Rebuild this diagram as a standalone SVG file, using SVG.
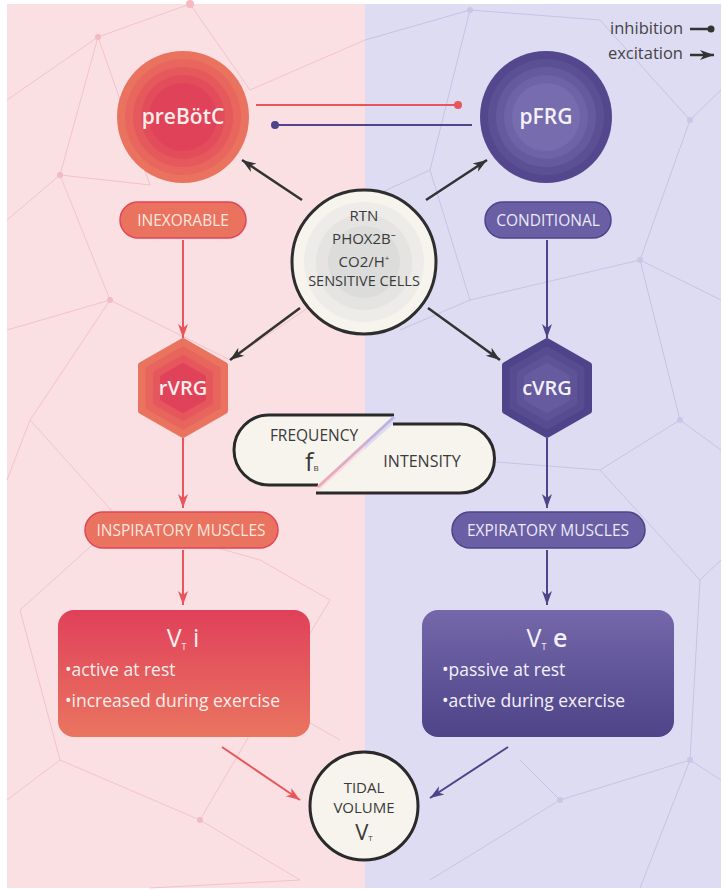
<svg xmlns="http://www.w3.org/2000/svg" width="723" height="890" viewBox="0 0 723 890">
<style>
text{font-family:"Open Sans","Noto Sans",sans-serif;}
.lbl{fill:#fde6df;font-size:15.5px;text-anchor:middle;}
.dark{fill:#3a3a3a;text-anchor:middle;}
.box{fill:#fbeeea;font-size:17.5px;}
.bgl{fill:none;stroke-width:1;}
.pk{stroke:#f2c3c9;}
.bl{stroke:#c6c3e6;}
.red{stroke:#e8565c;stroke-width:2;fill:none;}
.blue{stroke:#4f4389;stroke-width:2;fill:none;}
.blk{stroke:#333;stroke-width:2.5;fill:none;}
</style>
<defs>
<marker id="ar" markerUnits="userSpaceOnUse" markerWidth="16" markerHeight="12" refX="14" refY="6" orient="auto"><path d="M0,1 L14,6 L0,11 L4,6 Z" fill="#e8565c"/></marker>
<marker id="ab" markerUnits="userSpaceOnUse" markerWidth="16" markerHeight="12" refX="14" refY="6" orient="auto"><path d="M0,1 L14,6 L0,11 L4,6 Z" fill="#4f4389"/></marker>
<marker id="ak" markerUnits="userSpaceOnUse" markerWidth="16" markerHeight="12" refX="14" refY="6" orient="auto"><path d="M0,1 L14,6 L0,11 L4,6 Z" fill="#333"/></marker>
<linearGradient id="gi" x1="0" y1="0" x2="0" y2="1"><stop offset="0" stop-color="#e0405a"/><stop offset="1" stop-color="#ea7560"/></linearGradient>
<linearGradient id="ge" x1="0" y1="0" x2="0" y2="1"><stop offset="0" stop-color="#7468aa"/><stop offset="1" stop-color="#4f4389"/></linearGradient>
<linearGradient id="gd" x1="0" y1="1" x2="1" y2="0"><stop offset="0" stop-color="#f3a9b0"/><stop offset="1" stop-color="#b9b5e6"/></linearGradient>
</defs>
<rect width="723" height="890" fill="#ffffff"/>
<rect x="7" y="4" width="358" height="884" fill="#fbe0e3"/>
<rect x="365" y="4" width="356" height="884" fill="#dedcf3"/>
<g id="background">
<path class="bgl pk" d="M7,100 L98,37 L190,4 M98,37 L60,175 L7,220 M60,175 L150,185 M98,37 L150,185 M60,175 L110,300 L7,330 M110,300 L30,420 L7,480 M110,300 L230,360 M30,420 L120,520 M120,520 L20,610 M120,520 L260,560 L330,600 M20,610 L60,760 L7,800 M60,760 L200,820 L300,880 M200,820 L270,700 L340,740 M270,700 L330,600 M300,880 L150,888 M230,360 L320,300 M190,4 L250,90 L365,40"/>
<path class="bgl bl" d="M365,40 L470,10 L600,20 M470,10 L430,170 L365,200 M600,20 L690,120 L721,90 M690,120 L640,260 L721,300 M640,260 L470,300 M640,260 L680,420 L721,450 M680,420 L600,470 L470,460 M600,470 L700,580 L721,560 M700,580 L690,760 L721,780 M690,760 L560,800 L430,880 M560,800 L520,760 M690,760 L640,888 M430,170 L470,300 L400,330"/>
<g fill="#f4b9c1"><circle cx="98" cy="37" r="3"/><circle cx="60" cy="175" r="3"/><circle cx="110" cy="300" r="3"/><circle cx="120" cy="520" r="3"/><circle cx="270" cy="700" r="3"/><circle cx="200" cy="820" r="3"/><circle cx="190" cy="4" r="4"/></g>
<g fill="#c9c6e8"><circle cx="470" cy="10" r="3"/><circle cx="690" cy="120" r="3"/><circle cx="640" cy="260" r="3"/><circle cx="680" cy="420" r="3"/><circle cx="690" cy="760" r="3"/><circle cx="560" cy="800" r="3"/></g>
</g>
<g id="legend">
<text x="683" y="34" font-size="16.5" fill="#444" text-anchor="end">inhibition</text>
<path d="M690,29 L710,29" stroke="#333" stroke-width="2.5"/><circle cx="711" cy="29" r="3.5" fill="#333"/>
<text x="683" y="59" font-size="16.5" fill="#444" text-anchor="end">excitation</text>
<path d="M690,55 L714,55" class="blk" marker-end="url(#ak)"/>
</g>
<g id="connectors">
<path d="M256,105 L456,105" class="red"/><circle cx="458" cy="105" r="4" fill="#e8565c"/>
<path d="M276,125 L472,125" class="blue"/><circle cx="275" cy="125" r="4" fill="#4f4389"/>
<path d="M302,200 L242,160" class="blk" marker-end="url(#ak)"/>
<path d="M426,200 L487,160" class="blk" marker-end="url(#ak)"/>
<path d="M300,308 L230,360" class="blk" marker-end="url(#ak)"/>
<path d="M428,308 L500,360" class="blk" marker-end="url(#ak)"/>
<path d="M183,240 L183,338" class="red" marker-end="url(#ar)"/>
<path d="M547,240 L547,338" class="blue" marker-end="url(#ab)"/>
<path d="M183,438 L183,508" class="red" marker-end="url(#ar)"/>
<path d="M547,438 L547,508" class="blue" marker-end="url(#ab)"/>
<path d="M183,550 L183,605" class="red" marker-end="url(#ar)"/>
<path d="M547,550 L547,605" class="blue" marker-end="url(#ab)"/>
<path d="M222,747 L300,800" class="red" marker-end="url(#ar)"/>
<path d="M508,747 L430,798" class="blue" marker-end="url(#ab)"/>
</g>
<g id="preBotC">
<circle cx="183" cy="117" r="66" fill="#ea735f"/>
<circle cx="183" cy="117" r="58" fill="#e8665d"/>
<circle cx="183" cy="117" r="50" fill="#e5595c"/>
<circle cx="183" cy="117" r="42" fill="#e34c5b"/>
<circle cx="183" cy="117" r="34" fill="#e0425a"/>
<text x="183" y="124" font-size="21" font-weight="600" fill="#fdeeea" text-anchor="middle">preBötC</text>
</g>
<g id="pFRG">
<circle cx="546" cy="117" r="66" fill="#54478d"/>
<circle cx="546" cy="117" r="58" fill="#5c5095"/>
<circle cx="546" cy="117" r="50" fill="#655a9e"/>
<circle cx="546" cy="117" r="42" fill="#6e63a6"/>
<circle cx="546" cy="117" r="34" fill="#776cad"/>
<text x="546" y="124" font-size="21" font-weight="600" fill="#f3f1fb" text-anchor="middle">pFRG</text>
</g>
<g id="RTN">
<circle cx="364" cy="262" r="72" fill="#f7f4ee" stroke="#2e2e2e" stroke-width="3"/>
<circle cx="364" cy="262" r="60" fill="#eeece8"/>
<circle cx="364" cy="262" r="48" fill="#e5e4e2"/>
<circle cx="364" cy="262" r="36" fill="#dcdcdb"/>
<text class="dark" x="364" y="221" font-size="15">RTN</text>
<text class="dark" x="364" y="244" font-size="15">PHOX2B⁻</text>
<text class="dark" x="364" y="267" font-size="15">CO2/H<tspan font-size="8" dy="-6">+</tspan></text>
<text class="dark" x="364" y="286" font-size="14.5">SENSITIVE CELLS</text>
</g>
<g id="inexorable">
<rect x="120" y="202" width="126" height="36" rx="18" fill="#e9735f" stroke="#e0465a" stroke-width="1.5"/>
<text class="lbl" x="183" y="226">INEXORABLE</text>
</g>
<g id="conditional">
<rect x="485" y="202" width="126" height="36" rx="18" fill="#6a5ea4" stroke="#4f4389" stroke-width="1.5"/>
<text class="lbl" x="548" y="226" style="fill:#ece9f8">CONDITIONAL</text>
</g>
<g id="rVRG">
<path d="M183,341 L225,365 L225,411 L183,435 L141,411 L141,365 Z" fill="#ea735f" stroke="#ea735f" stroke-width="6" stroke-linejoin="round"/>
<path d="M183,349 L218,369 L218,407 L183,427 L148,407 L148,369 Z" fill="#e8655d" stroke="#e8655d" stroke-width="5" stroke-linejoin="round"/>
<path d="M183,357 L211,373 L211,403 L183,419 L155,403 L155,373 Z" fill="#e5575c" stroke="#e5575c" stroke-width="4" stroke-linejoin="round"/>
<path d="M183,365 L204,377 L204,399 L183,411 L162,399 L162,377 Z" fill="#e0425a" stroke="#e0425a" stroke-width="4" stroke-linejoin="round"/>
<text x="183" y="395" font-size="20" font-weight="600" fill="#fdeeea" text-anchor="middle">rVRG</text>
</g>
<g id="cVRG">
<path d="M547,341 L589,365 L589,411 L547,435 L505,411 L505,365 Z" fill="#4f4389" stroke="#4f4389" stroke-width="6" stroke-linejoin="round"/>
<path d="M547,349 L582,369 L582,407 L547,427 L512,407 L512,369 Z" fill="#574b91" stroke="#574b91" stroke-width="5" stroke-linejoin="round"/>
<path d="M547,357 L575,373 L575,403 L547,419 L519,403 L519,373 Z" fill="#5f5398" stroke="#5f5398" stroke-width="4" stroke-linejoin="round"/>
<path d="M547,365 L568,377 L568,399 L547,411 L526,399 L526,377 Z" fill="#675ba0" stroke="#675ba0" stroke-width="4" stroke-linejoin="round"/>
<text x="547" y="395" font-size="20" font-weight="600" fill="#f3f1fb" text-anchor="middle">cVRG</text>
</g>
<g id="frequency-intensity">
<path d="M394,415 L269,415 A35,35 0 0 0 269,485 L318,485 Z" fill="#f7f4ee"/>
<path d="M394,415 L269,415 A35,35 0 0 0 269,485 L318,485" fill="none" stroke="#2a2a2a" stroke-width="3"/>
<path d="M393,424 L460,424 A34.5,34.5 0 0 1 460,493 L316,493 Z" fill="#f7f4ee"/>
<path d="M393,424 L460,424 A34.5,34.5 0 0 1 460,493 L316,493" fill="none" stroke="#2a2a2a" stroke-width="3"/>
<path d="M318,487 L394,417" stroke="url(#gd)" stroke-width="3" fill="none"/>
<text class="dark" x="314" y="441" font-size="15.5">FREQUENCY</text>
<text x="305" y="471" font-size="25" fill="#3a3a3a" font-family="Liberation Serif,serif">f<tspan font-size="8" dy="0" font-family="Open Sans,sans-serif">B</tspan></text>
<text class="dark" x="422" y="467" font-size="16">INTENSITY</text>
</g>
<g id="inspiratory">
<rect x="85" y="512" width="193" height="36" rx="18" fill="#e9735f" stroke="#e0465a" stroke-width="1.5"/>
<text class="lbl" x="181" y="536">INSPIRATORY MUSCLES</text>
</g>
<g id="expiratory">
<rect x="452" y="512" width="193" height="36" rx="18" fill="#6a5ea4" stroke="#4f4389" stroke-width="1.5"/>
<text class="lbl" x="548" y="536" style="fill:#ece9f8">EXPIRATORY MUSCLES</text>
</g>
<g id="VTi">
<rect x="58" y="610" width="252" height="127" rx="16" fill="url(#gi)"/>
<text x="183" y="647" font-size="25" fill="#fbeeea" text-anchor="middle">V<tspan font-size="9" dy="3">T</tspan><tspan dy="-3"> i</tspan></text>
<text class="box" x="65" y="676">•active at rest</text>
<text class="box" x="65" y="707">•increased during exercise</text>
</g>
<g id="VTe">
<rect x="422" y="610" width="252" height="127" rx="16" fill="url(#ge)"/>
<text x="547" y="647" font-size="25" fill="#f3f1fb" text-anchor="middle">V<tspan font-size="9" dy="3">T</tspan><tspan dy="-3" font-weight="600"> e</tspan></text>
<text class="box" x="442" y="676" style="fill:#f3f1fb">•passive at rest</text>
<text class="box" x="442" y="707" style="fill:#f3f1fb">•active during exercise</text>
</g>
<g id="tidal">
<circle cx="364" cy="806" r="54" fill="#f7f4ee" stroke="#2a2a2a" stroke-width="3"/>
<text class="dark" x="364" y="793" font-size="15">TIDAL</text>
<text class="dark" x="364" y="813" font-size="15">VOLUME</text>
<text class="dark" x="364" y="840" font-size="22">V<tspan font-size="8" dy="1">T</tspan></text>
</g>
</svg>
